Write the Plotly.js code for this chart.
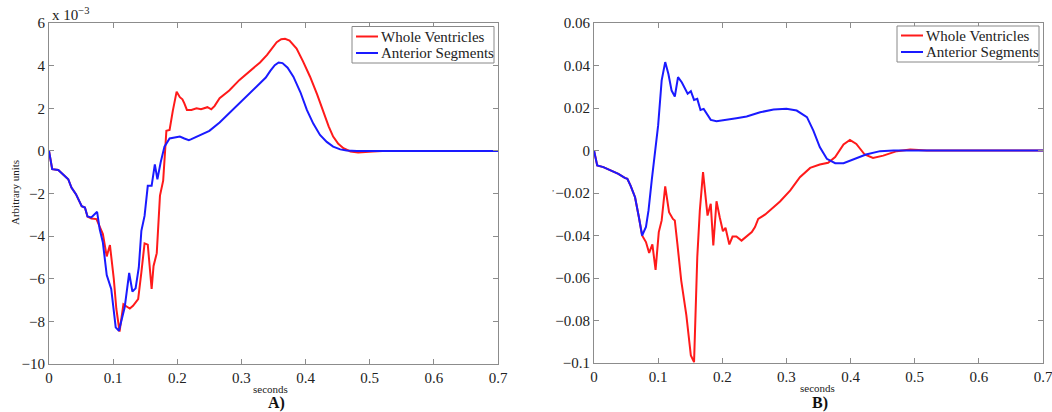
<!DOCTYPE html>
<html>
<head>
<meta charset="utf-8">
<script src="https://cdn.plot.ly/plotly-3.0.1.min.js"></script>
<style>html,body{margin:0;padding:0;background:#fff;}#chart{width:1052px;height:412px;}</style>
</head>
<body>
<div id="chart"></div>
<script>
// Panel A (values in units of 1e-3)
const aWholeT = [0,0.005,0.0145,0.022,0.030,0.035,0.042,0.051,0.056,0.060,0.066,0.074,0.078,0.084,0.090,0.095,0.101,0.105,0.110,0.116,0.121,0.126,0.131,0.139,0.144,0.149,0.154,0.160,0.163,0.168,0.173,0.178,0.183,0.188,0.193,0.199,0.204,0.208,0.211,0.215,0.222,0.230,0.237,0.242,0.247,0.253,0.258,0.266,0.281,0.297,0.318,0.329,0.340,0.348,0.355,0.362,0.368,0.375,0.386,0.396,0.407,0.418,0.428,0.436,0.443,0.451,0.459,0.470,0.482,0.493,0.505,0.520,0.550,0.6,0.65,0.7];
const aWholeV = [0,-0.86,-0.9,-1.1,-1.33,-1.72,-2.03,-2.6,-2.66,-3.08,-3.17,-3.2,-3.5,-3.9,-4.95,-4.42,-6.0,-7.42,-8.48,-7.2,-7.3,-7.4,-7.27,-6.95,-5.7,-4.34,-4.4,-6.48,-5.4,-4.8,-2.1,-1.4,0.94,0.98,1.88,2.78,2.52,2.42,2.23,1.92,1.92,2.0,1.95,2.0,2.05,1.95,2.1,2.47,2.83,3.33,3.88,4.15,4.5,4.85,5.1,5.24,5.26,5.18,4.8,4.2,3.48,2.65,1.77,1.15,0.67,0.33,0.125,-0.03,-0.08,-0.07,-0.03,-0.01,0,0,0,0];
const aAntT = [0,0.005,0.0145,0.022,0.030,0.035,0.042,0.051,0.056,0.060,0.066,0.075,0.079,0.084,0.090,0.097,0.104,0.109,0.118,0.125,0.130,0.135,0.140,0.144,0.149,0.154,0.160,0.165,0.169,0.174,0.180,0.188,0.196,0.204,0.211,0.218,0.222,0.230,0.240,0.250,0.266,0.287,0.312,0.338,0.345,0.352,0.358,0.364,0.372,0.381,0.392,0.402,0.412,0.4225,0.433,0.443,0.454,0.464,0.48,0.5,0.55,0.6,0.65,0.7];
const aAntV = [0,-0.86,-0.9,-1.1,-1.33,-1.72,-2.03,-2.6,-2.66,-3.08,-3.12,-2.86,-3.67,-4.3,-5.83,-6.48,-8.28,-8.44,-7.34,-5.73,-6.6,-6.45,-5.47,-3.75,-3.05,-1.64,-1.64,-0.63,-1.33,-0.55,0.2,0.58,0.62,0.67,0.58,0.5,0.55,0.67,0.78,0.94,1.33,1.95,2.66,3.44,3.75,4.02,4.15,4.12,3.9,3.48,2.75,1.92,1.28,0.75,0.42,0.2,0.07,0.02,0,0,0,0,0,0];

// Panel B
const bWholeT = [0,0.005,0.0146,0.0275,0.038,0.048,0.052,0.057,0.064,0.070,0.075,0.081,0.086,0.091,0.096,0.101,0.1055,0.111,0.117,0.123,0.126,0.130,0.136,0.144,0.151,0.156,0.161,0.165,0.170,0.177,0.182,0.186,0.191,0.196,0.201,0.205,0.211,0.216,0.222,0.230,0.237,0.246,0.251,0.256,0.267,0.277,0.290,0.306,0.321,0.337,0.352,0.365,0.376,0.389,0.399,0.409,0.422,0.435,0.451,0.472,0.493,0.519,0.55,0.6,0.65,0.7];
const bWholeV = [0,-0.007,-0.0078,-0.0094,-0.011,-0.0129,-0.0133,-0.0165,-0.022,-0.0314,-0.040,-0.0431,-0.0482,-0.0442,-0.0562,-0.0384,-0.0329,-0.0169,-0.029,-0.0322,-0.0329,-0.0439,-0.0612,-0.0776,-0.0965,-0.0996,-0.0502,-0.0282,-0.0102,-0.0306,-0.0251,-0.0447,-0.0239,-0.0314,-0.038,-0.0364,-0.0442,-0.0405,-0.0405,-0.0424,-0.0408,-0.0384,-0.036,-0.0322,-0.0301,-0.0275,-0.024,-0.0188,-0.0126,-0.0082,-0.0066,-0.0058,-0.0031,0.0028,0.005,0.0031,-0.0019,-0.0035,-0.0024,-0.0003,0.0005,0,0,0,0,0];
const bAntT = [0,0.005,0.0146,0.0275,0.038,0.048,0.052,0.057,0.064,0.070,0.075,0.081,0.085,0.090,0.095,0.100,0.1055,0.111,0.116,0.121,0.126,0.131,0.137,0.142,0.146,0.151,0.156,0.161,0.166,0.171,0.177,0.182,0.191,0.207,0.222,0.238,0.259,0.280,0.300,0.316,0.332,0.342,0.352,0.363,0.376,0.389,0.404,0.424,0.446,0.467,0.5,0.55,0.6,0.65,0.7];
const bAntV = [0,-0.007,-0.0078,-0.0094,-0.011,-0.0129,-0.0133,-0.0165,-0.022,-0.0314,-0.040,-0.036,-0.0282,-0.0141,-0.0024,0.0118,0.033,0.0416,0.036,0.0282,0.0254,0.0345,0.032,0.029,0.0267,0.0279,0.0238,0.0243,0.0191,0.0196,0.0165,0.0144,0.0138,0.0144,0.0152,0.016,0.018,0.0193,0.0196,0.0188,0.0157,0.0094,0.0016,-0.0039,-0.006,-0.006,-0.0044,-0.0019,-0.0003,0,0,0,0,0,0];

const seriesNames = ['Whole Ventricles','Anterior Segments'];
const xTicks = [0,0.1,0.2,0.3,0.4,0.5,0.6,0.7];

const RED = '#ff1a1a', BLUE = '#1a1aff';
const seriesColors = [RED, BLUE];
const W = 1052, H = 412;
const px = x => x / W, py = y => 1 - y / H;
const serif = '"Liberation Serif", "Times New Roman", serif';

const traces = [
  {x: aWholeT, y: aWholeV, name: seriesNames[0], xaxis:'x', yaxis:'y', line:{color:RED, width:2}, mode:'lines'},
  {x: aAntT, y: aAntV, name: seriesNames[1], xaxis:'x', yaxis:'y', line:{color:BLUE, width:2}, mode:'lines'},
  {x: bWholeT, y: bWholeV, name: seriesNames[0], xaxis:'x2', yaxis:'y2', line:{color:RED, width:2}, mode:'lines'},
  {x: bAntT, y: bAntV, name: seriesNames[1], xaxis:'x2', yaxis:'y2', line:{color:BLUE, width:2}, mode:'lines'}
];

const axisCommon = {
  showline:true, mirror:'ticks', linecolor:'#8c8c8c', linewidth:1,
  ticks:'inside', ticklen:5, tickcolor:'#8c8c8c', showgrid:false, zeroline:false,
  tickfont:{family:serif, size:15, color:'#222'}, ticklabeloverflow:'allow'
};

// Compact MATLAB-style legend boxes (box: left, top, right, bottom in px; rows y)
const shapes = [], annotations = [];
function addLegend(left, top, right, bottom, rowY, lineX0, lineX1, textX) {
  shapes.push({type:'rect', xref:'paper', yref:'paper', x0:px(left), x1:px(right), y0:py(bottom), y1:py(top),
    line:{color:'#888', width:1}, fillcolor:'#fff', layer:'above'});
  seriesNames.forEach((nm, i) => {
    shapes.push({type:'line', xref:'paper', yref:'paper', x0:px(lineX0), x1:px(lineX1), y0:py(rowY[i]), y1:py(rowY[i]),
      line:{color:seriesColors[i], width:2}, layer:'above'});
    annotations.push({xref:'paper', yref:'paper', x:px(textX), y:py(rowY[i]), text:nm, showarrow:false,
      xanchor:'left', yanchor:'middle', font:{family:serif, size:15, color:'#222'}});
  });
}
addLegend(352, 26.5, 494, 63, [36.5, 53], 356, 378, 379);
addLegend(897, 26, 1039, 62, [35.5, 52], 901, 923, 924);

annotations.push(
  {xref:'paper', yref:'paper', x:px(50), y:py(14), text:'x 10<sup>−3</sup>', showarrow:false, xanchor:'left', yanchor:'middle', font:{family:serif, size:15, color:'#222'}},
  {xref:'paper', yref:'paper', x:px(15), y:py(193), text:'Arbitrary units', textangle:-90, showarrow:false, xanchor:'center', yanchor:'middle', font:{family:serif, size:11, color:'#222'}},
  {xref:'paper', yref:'paper', x:px(270), y:py(389), text:'seconds', showarrow:false, xanchor:'center', yanchor:'middle', font:{family:serif, size:11, color:'#222'}},
  {xref:'paper', yref:'paper', x:px(817), y:py(388), text:'seconds', showarrow:false, xanchor:'center', yanchor:'middle', font:{family:serif, size:11, color:'#222'}},
  {xref:'paper', yref:'paper', x:px(276), y:py(403), text:'<b>A)</b>', showarrow:false, xanchor:'center', yanchor:'middle', font:{family:serif, size:16, color:'#111'}},
  {xref:'paper', yref:'paper', x:px(820), y:py(403), text:'<b>B)</b>', showarrow:false, xanchor:'center', yanchor:'middle', font:{family:serif, size:16, color:'#111'}},
  {xref:'paper', yref:'paper', x:px(553), y:py(188), text:',', showarrow:false, xanchor:'center', yanchor:'middle', font:{family:serif, size:9, color:'#444'}}
);

const layout = {
  width:W, height:H, margin:{l:0,r:0,t:0,b:0},
  paper_bgcolor:'#fff', plot_bgcolor:'#fff',
  font:{family:serif},
  showlegend:false,
  xaxis: Object.assign({}, axisCommon, {domain:[px(49), px(498)], range:[0,0.7], tickvals:xTicks, anchor:'y'}),
  yaxis: Object.assign({}, axisCommon, {domain:[py(364), py(23)], range:[-10,6], dtick:2, anchor:'x'}),
  xaxis2: Object.assign({}, axisCommon, {domain:[px(594), px(1043)], range:[0,0.7], tickvals:xTicks, anchor:'y2'}),
  yaxis2: Object.assign({}, axisCommon, {domain:[py(363), py(23)], range:[-0.1,0.06], dtick:0.02, anchor:'x2'}),
  shapes: shapes,
  annotations: annotations
};

Plotly.newPlot('chart', traces, layout, {staticPlot:true, displayModeBar:false});
</script>
</body>
</html>
